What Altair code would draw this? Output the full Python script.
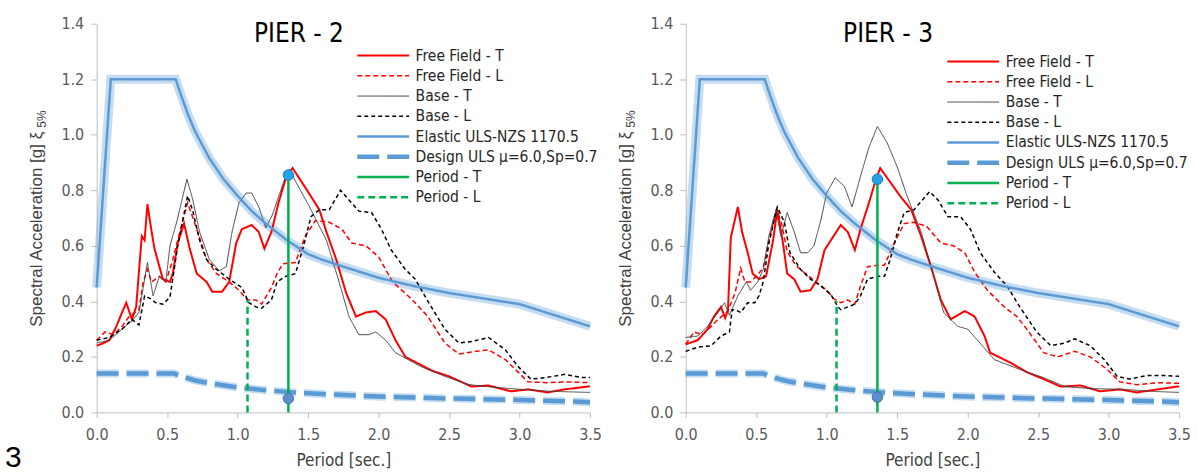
import altair as alt
import pandas as pd

NARROW = "DejaVu Sans Condensed"
REG = "Liberation Sans"

SERIES = ["Free Field - T", "Free Field - L", "Base - T", "Base - L",
          "Elastic ULS-NZS 1170.5", "Design ULS μ=6.0,Sp=0.7", "Period - T", "Period - L"]
COLORS = ["#ff0000", "#ff0000", "#404040", "#000000", "#5b9bd5", "#5b9bd5", "#00b050", "#00b050"]
DASHES = [[1, 0], [5, 3], [1, 0], [4, 3], [1, 0], [22, 8], [1, 0], [7, 4]]
WIDTHS = [2, 1.5, 1, 1.5, 2.5, 4.5, 2.5, 2.5]

X_TICKS = [0, 0.5, 1.0, 1.5, 2.0, 2.5, 3.0, 3.5]
Y_TICKS = [0, 0.2, 0.4, 0.6, 0.8, 1.0, 1.2, 1.4]

# Code spectra (same for both piers)
elastic_x = [0, 0.1, 0.56, 0.6, 0.65, 0.7, 0.8, 0.9, 1.0, 1.1, 1.2, 1.35, 1.5, 1.6, 1.75, 2.0, 2.25, 2.5, 2.75, 3.0, 3.5]
elastic_y = [0.45, 1.2, 1.2, 1.14, 1.07, 1.01, 0.915, 0.84, 0.78, 0.725, 0.68, 0.62, 0.57, 0.55, 0.525, 0.485, 0.455, 0.43, 0.41, 0.39, 0.31]
design_x = [0, 0.55, 0.6, 0.7, 0.8, 1.0, 1.2, 1.4, 1.6, 2.0, 2.5, 3.0, 3.5]
design_y = [0.14, 0.14, 0.13, 0.115, 0.105, 0.09, 0.08, 0.072, 0.066, 0.057, 0.05, 0.045, 0.037]

# PIER - 2
p2_fft_x = [0, 0.05, 0.09, 0.14, 0.18, 0.21, 0.25, 0.28, 0.32, 0.34, 0.36, 0.39, 0.41, 0.445, 0.47, 0.52, 0.54, 0.575, 0.62, 0.66, 0.71, 0.78, 0.82, 0.89, 0.94, 0.99, 1.03, 1.10, 1.15, 1.19, 1.24, 1.29, 1.34, 1.39, 1.48, 1.58, 1.63, 1.70, 1.77, 1.84, 1.91, 1.98, 2.05, 2.12, 2.19, 2.38, 2.5, 2.66, 2.78, 2.94, 3.06, 3.2, 3.32, 3.5]
p2_fft_y = [0.24, 0.25, 0.26, 0.31, 0.36, 0.395, 0.335, 0.38, 0.635, 0.62, 0.75, 0.65, 0.59, 0.525, 0.48, 0.47, 0.50, 0.61, 0.68, 0.59, 0.50, 0.47, 0.435, 0.435, 0.47, 0.61, 0.66, 0.675, 0.65, 0.59, 0.65, 0.755, 0.84, 0.88, 0.81, 0.73, 0.65, 0.55, 0.43, 0.345, 0.36, 0.365, 0.335, 0.26, 0.2, 0.15, 0.13, 0.093, 0.097, 0.076, 0.083, 0.072, 0.083, 0.094]
p2_ffl_x = [0, 0.06, 0.12, 0.18, 0.23, 0.30, 0.33, 0.36, 0.39, 0.445, 0.49, 0.54, 0.59, 0.645, 0.68, 0.73, 0.78, 0.85, 0.94, 1.01, 1.07, 1.13, 1.17, 1.24, 1.28, 1.32, 1.41, 1.48, 1.55, 1.65, 1.74, 1.81, 1.91, 2.0, 2.1, 2.24, 2.35, 2.47, 2.57, 2.69, 2.78, 2.90, 2.99, 3.06, 3.2, 3.32, 3.5]
p2_ffl_y = [0.26, 0.29, 0.28, 0.31, 0.345, 0.37, 0.47, 0.515, 0.47, 0.49, 0.47, 0.55, 0.65, 0.755, 0.705, 0.63, 0.55, 0.50, 0.47, 0.44, 0.405, 0.405, 0.39, 0.45, 0.50, 0.535, 0.54, 0.635, 0.69, 0.685, 0.66, 0.61, 0.60, 0.56, 0.47, 0.405, 0.345, 0.25, 0.21, 0.22, 0.225, 0.19, 0.145, 0.11, 0.107, 0.11, 0.107]
p2_bt_x = [0, 0.09, 0.18, 0.25, 0.30, 0.33, 0.36, 0.40, 0.445, 0.49, 0.52, 0.57, 0.64, 0.68, 0.73, 0.80, 0.87, 0.92, 0.96, 1.01, 1.06, 1.10, 1.15, 1.20, 1.245, 1.34, 1.365, 1.51, 1.63, 1.72, 1.79, 1.86, 1.93, 1.98, 2.05, 2.12, 2.30, 2.47, 2.64, 2.83, 3.01, 3.22, 3.5]
p2_bt_y = [0.25, 0.26, 0.30, 0.33, 0.36, 0.45, 0.54, 0.42, 0.49, 0.47, 0.60, 0.69, 0.84, 0.77, 0.65, 0.55, 0.51, 0.525, 0.65, 0.755, 0.79, 0.79, 0.74, 0.665, 0.71, 0.85, 0.875, 0.74, 0.62, 0.47, 0.345, 0.28, 0.28, 0.29, 0.26, 0.215, 0.165, 0.13, 0.10, 0.09, 0.083, 0.076, 0.072]
p2_bl_x = [0, 0.09, 0.18, 0.25, 0.30, 0.34, 0.38, 0.42, 0.47, 0.52, 0.575, 0.645, 0.68, 0.73, 0.78, 0.85, 0.94, 1.03, 1.08, 1.13, 1.17, 1.24, 1.28, 1.34, 1.41, 1.46, 1.52, 1.58, 1.65, 1.73, 1.79, 1.86, 1.95, 2.02, 2.09, 2.19, 2.26, 2.35, 2.47, 2.57, 2.66, 2.78, 2.90, 2.99, 3.08, 3.18, 3.32, 3.44, 3.5]
p2_bl_y = [0.26, 0.27, 0.30, 0.335, 0.315, 0.42, 0.41, 0.395, 0.39, 0.415, 0.60, 0.78, 0.73, 0.62, 0.55, 0.515, 0.48, 0.45, 0.395, 0.38, 0.375, 0.405, 0.47, 0.49, 0.50, 0.585, 0.705, 0.73, 0.73, 0.80, 0.765, 0.725, 0.72, 0.66, 0.585, 0.515, 0.48, 0.40, 0.30, 0.25, 0.255, 0.27, 0.225, 0.165, 0.12, 0.125, 0.137, 0.126, 0.126]
p2_period_t = [1.36, 0.855]
p2_period_l = [1.07, 0.405]
p2_dot_top = 0.855
p2_dot_bottom = 0.05

# PIER - 3
p3_fft_x = [0, 0.085, 0.155, 0.2, 0.25, 0.28, 0.30, 0.32, 0.37, 0.40, 0.44, 0.475, 0.52, 0.57, 0.62, 0.65, 0.69, 0.72, 0.77, 0.815, 0.885, 0.935, 0.985, 1.03, 1.10, 1.15, 1.20, 1.24, 1.30, 1.35, 1.38, 1.45, 1.52, 1.60, 1.67, 1.74, 1.81, 1.88, 1.98, 2.05, 2.12, 2.16, 2.30, 2.42, 2.54, 2.66, 2.80, 2.94, 3.08, 3.2, 3.35, 3.5]
p3_fft_y = [0.245, 0.26, 0.30, 0.345, 0.38, 0.34, 0.37, 0.63, 0.74, 0.65, 0.575, 0.50, 0.48, 0.49, 0.62, 0.73, 0.61, 0.50, 0.48, 0.435, 0.44, 0.48, 0.585, 0.62, 0.675, 0.65, 0.585, 0.66, 0.755, 0.84, 0.88, 0.83, 0.78, 0.73, 0.635, 0.525, 0.405, 0.335, 0.365, 0.345, 0.275, 0.215, 0.18, 0.145, 0.12, 0.093, 0.097, 0.076, 0.083, 0.072, 0.083, 0.094]
p3_ffl_x = [0, 0.06, 0.12, 0.23, 0.30, 0.35, 0.39, 0.42, 0.46, 0.50, 0.55, 0.60, 0.645, 0.68, 0.72, 0.78, 0.85, 0.95, 1.0, 1.05, 1.10, 1.15, 1.2, 1.24, 1.29, 1.36, 1.41, 1.48, 1.55, 1.62, 1.71, 1.81, 1.90, 1.98, 2.05, 2.14, 2.26, 2.35, 2.42, 2.54, 2.64, 2.76, 2.87, 2.99, 3.08, 3.2, 3.35, 3.5]
p3_ffl_y = [0.245, 0.29, 0.28, 0.335, 0.365, 0.43, 0.52, 0.47, 0.47, 0.49, 0.52, 0.64, 0.73, 0.68, 0.58, 0.53, 0.50, 0.46, 0.44, 0.41, 0.395, 0.405, 0.39, 0.455, 0.525, 0.53, 0.53, 0.61, 0.68, 0.685, 0.67, 0.61, 0.60, 0.575, 0.505, 0.44, 0.38, 0.345, 0.30, 0.215, 0.20, 0.22, 0.20, 0.155, 0.11, 0.10, 0.107, 0.105]
p3_bt_x = [0, 0.085, 0.155, 0.23, 0.275, 0.31, 0.37, 0.43, 0.46, 0.51, 0.55, 0.59, 0.64, 0.675, 0.72, 0.77, 0.815, 0.865, 0.91, 0.96, 1.0, 1.06, 1.125, 1.18, 1.24, 1.30, 1.36, 1.43, 1.50, 1.57, 1.67, 1.76, 1.83, 1.93, 2.0, 2.07, 2.19, 2.37, 2.54, 2.69, 2.87, 3.11, 3.30, 3.5]
p3_bt_y = [0.27, 0.275, 0.31, 0.36, 0.395, 0.35, 0.42, 0.47, 0.44, 0.47, 0.515, 0.635, 0.73, 0.635, 0.72, 0.65, 0.575, 0.575, 0.60, 0.695, 0.79, 0.845, 0.815, 0.74, 0.85, 0.955, 1.03, 0.97, 0.885, 0.78, 0.65, 0.49, 0.36, 0.31, 0.30, 0.26, 0.19, 0.155, 0.125, 0.093, 0.086, 0.083, 0.076, 0.072]
p3_bl_x = [0, 0.085, 0.18, 0.25, 0.31, 0.33, 0.35, 0.39, 0.44, 0.49, 0.52, 0.55, 0.59, 0.65, 0.70, 0.74, 0.815, 0.885, 0.96, 1.03, 1.08, 1.10, 1.15, 1.2, 1.24, 1.29, 1.36, 1.41, 1.45, 1.50, 1.55, 1.62, 1.73, 1.79, 1.86, 1.95, 2.02, 2.09, 2.19, 2.28, 2.37, 2.49, 2.59, 2.69, 2.76, 2.87, 2.97, 3.06, 3.15, 3.27, 3.39, 3.5]
p3_bl_y = [0.22, 0.235, 0.24, 0.275, 0.29, 0.37, 0.37, 0.36, 0.395, 0.395, 0.42, 0.47, 0.61, 0.74, 0.685, 0.575, 0.515, 0.48, 0.455, 0.425, 0.38, 0.37, 0.38, 0.39, 0.42, 0.48, 0.49, 0.49, 0.55, 0.645, 0.72, 0.73, 0.795, 0.765, 0.705, 0.705, 0.66, 0.575, 0.505, 0.455, 0.38, 0.29, 0.24, 0.25, 0.265, 0.24, 0.19, 0.13, 0.12, 0.133, 0.133, 0.13]
p3_period_t = [1.36, 0.84]
p3_period_l = [1.07, 0.40]
p3_dot_top = 0.84
p3_dot_bottom = 0.055


def series_frame(curves):
    rows = []
    for name, xs, ys in curves:
        for i, (x, y) in enumerate(zip(xs, ys)):
            rows.append({"series": name, "x": x, "y": y, "i": i})
    return pd.DataFrame(rows)


def panel(title, fft, ffl, bt, bl, pt, pl, dot_top, dot_bottom, legend_x, legend_y, show_three):
    df = series_frame([
        (SERIES[0], fft[0], fft[1]),
        (SERIES[1], ffl[0], ffl[1]),
        (SERIES[2], bt[0], bt[1]),
        (SERIES[3], bl[0], bl[1]),
        (SERIES[4], elastic_x, elastic_y),
        (SERIES[5], design_x, design_y),
        (SERIES[6], [pt[0], pt[0]], [0, pt[1]]),
        (SERIES[7], [pl[0], pl[0]], [0, pl[1]]),
    ])
    xs = alt.X("x:Q", scale=alt.Scale(domain=[0, 3.5], nice=False),
               axis=alt.Axis(values=X_TICKS, format=".1f", title="Period [sec.]", grid=False,
                             domainColor="#bfbfbf", tickColor="#bfbfbf", tickSize=5,
                             labelFont=NARROW, labelFontSize=16, labelColor="#595959",
                             labelPadding=9, labelFlush=False,
                             titleFont=NARROW, titleFontSize=17, titleFontWeight="normal",
                             titleColor="#404040", titlePadding=10))
    ys = alt.Y("y:Q", scale=alt.Scale(domain=[0, 1.4], nice=False),
               axis=alt.Axis(values=Y_TICKS, format=".1f", title=None, grid=False,
                             domainColor="#bfbfbf", tickColor="#bfbfbf", tickSize=6,
                             labelFont=NARROW, labelFontSize=16, labelColor="#595959",
                             labelPadding=7, labelFlush=False))
    base = alt.Chart(df)
    glow_el = base.transform_filter(alt.datum.series == SERIES[4]).mark_line(
        stroke="#5b9bd5", strokeWidth=9, opacity=0.35).encode(x=xs, y=ys, order="i:Q")
    glow_de = base.transform_filter(alt.datum.series == SERIES[5]).mark_line(
        stroke="#5b9bd5", strokeWidth=8, opacity=0.35, strokeDash=[22, 8]).encode(x=xs, y=ys, order="i:Q")
    legend = alt.Legend(title=None, orient="none", legendX=legend_x, legendY=legend_y,
                        symbolType="stroke", symbolSize=2704, clipHeight=20, rowPadding=0.3,
                        labelOffset=4, labelFont=NARROW, labelFontSize=15.5, labelColor="#262626",
                        padding=0, labelLimit=300)
    lines = base.mark_line().encode(
        x=xs, y=ys, order="i:Q",
        color=alt.Color("series:N", scale=alt.Scale(domain=SERIES, range=COLORS), legend=legend),
        strokeDash=alt.StrokeDash("series:N", scale=alt.Scale(domain=SERIES, range=DASHES), legend=legend),
        strokeWidth=alt.StrokeWidth("series:N", scale=alt.Scale(type="ordinal", domain=SERIES, range=WIDTHS), legend=legend),
    )
    dots = alt.Chart(pd.DataFrame({"x": [pt[0], pt[0]], "y": [dot_top, dot_bottom],
                                   "kind": ["top", "bottom"]})).mark_point(
        filled=True, size=110, strokeWidth=1, opacity=1).encode(
        x=alt.X("x:Q"), y=alt.Y("y:Q"),
        fill=alt.Fill("kind:N", scale=alt.Scale(domain=["top", "bottom"], range=["#20a4e8", "#5b8fd0"]), legend=None),
        stroke=alt.Stroke("kind:N", scale=alt.Scale(domain=["top", "bottom"], range=["#2e75b6", "#41719c"]), legend=None),
    )
    title_txt = alt.Chart(pd.DataFrame({"t": [title]})).mark_text(
        font=NARROW, fontSize=26, align="center", baseline="middle", color="#000000").encode(
        x=alt.value(203), y=alt.value(10), text="t:N")
    ytitle = alt.Chart(pd.DataFrame({"t": ["Spectral Acceleration [g] ξ"]})).mark_text(
        font=REG, fontSize=17, angle=270, align="left", baseline="alphabetic", color="#404040").encode(
        x=alt.value(-55), y=alt.value(304), text="t:N")
    ysub = alt.Chart(pd.DataFrame({"t": ["5%"]})).mark_text(
        font=REG, fontSize=12, angle=270, align="right", baseline="alphabetic", color="#404040").encode(
        x=alt.value(-51), y=alt.value(87), text="t:N")
    layers = [glow_el, glow_de, lines, dots, title_txt, ytitle, ysub]
    if show_three:
        three = alt.Chart(pd.DataFrame({"t": ["3"]})).mark_text(
            font=REG, fontSize=30, align="left", baseline="alphabetic", color="#000000").encode(
            x=alt.value(-92), y=alt.value(445), text="t:N")
        layers.append(three)
    return alt.layer(*layers).properties(width=495, height=390).resolve_scale(
        fill="independent", stroke="independent")


left = panel("PIER - 2", (p2_fft_x, p2_fft_y), (p2_ffl_x, p2_ffl_y), (p2_bt_x, p2_bt_y), (p2_bl_x, p2_bl_y),
             p2_period_t, p2_period_l, p2_dot_top, p2_dot_bottom, 259, 22, True)
right = panel("PIER - 3", (p3_fft_x, p3_fft_y), (p3_ffl_x, p3_ffl_y), (p3_bt_x, p3_bt_y), (p3_bl_x, p3_bl_y),
              p3_period_t, p3_period_l, p3_dot_top, p3_dot_bottom, 260, 28, False)

chart = alt.hconcat(left, right, spacing=96, bounds="flush").resolve_scale(
    color="independent", strokeDash="independent", strokeWidth="independent"
).resolve_legend(
    color="independent", strokeDash="independent", strokeWidth="independent"
).properties(
    padding={"left": 5, "top": 15, "right": 0, "bottom": 0}, background="white"
).configure_view(stroke=None)

chart.save("out.html", embed_options={"renderer": "svg", "actions": False})
